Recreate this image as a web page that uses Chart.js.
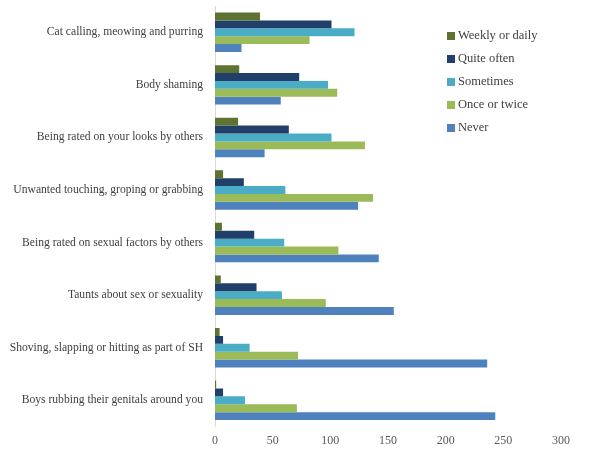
<!DOCTYPE html>
<html>
<head>
<meta charset="utf-8">
<script src="https://cdn.jsdelivr.net/npm/chart.js@4/dist/chart.umd.min.js"></script>
<style>
    body { margin: 0; background: #fff; }
    .wrap { position: relative; width: 603px; height: 460px; }
    #legend { position: absolute; left: 447px; top: 24px; font-family: "Liberation Serif", serif; font-size: 12.5px; color: #404040; }
    #legend div { height: 23.1px; display: flex; align-items: center; }
    #legend span { display: inline-block; width: 8px; height: 8px; margin-right: 3px; }
</style>
</head>
<body>
<div class="wrap">
    <canvas id="myChart" width="603" height="460"></canvas>
    <div id="legend"></div>
</div>
<script>
let categories = ['Cat calling, meowing and purring', 'Body shaming', 'Being rated on your looks by others',
    'Unwanted touching, groping or grabbing', 'Being rated on sexual factors by others',
    'Taunts about sex or sexuality', 'Shoving, slapping or hitting as part of SH', 'Boys rubbing their genitals around you'];
let seriesNames = ['Weekly or daily', 'Quite often', 'Sometimes', 'Once or twice', 'Never'];
let weeklyOrDaily = [39, 21, 20, 7, 6, 5, 4, 1];
let quiteOften = [101, 73, 64, 25, 34, 36, 7, 7];
let sometimes = [121, 98, 101, 61, 60, 58, 30, 26];
let onceOrTwice = [82, 106, 130, 137, 107, 96, 72, 71];
let never = [23, 57, 43, 124, 142, 155, 236, 243];
let xTicks = [0, 50, 100, 150, 200, 250, 300];

let colors = ['#5c7331', '#203f69', '#4bacc6', '#9bbb59', '#4f81bd'];
let values = [weeklyOrDaily, quiteOften, sometimes, onceOrTwice, never];

let diagramma = document.getElementById('myChart').getContext('2d');
let myChart = new Chart(diagramma, {
    type: 'bar',
    data: {
        labels: categories,
        datasets: seriesNames.map((name, i) => ({
            label: name,
            data: values[i],
            backgroundColor: colors[i],
            borderWidth: 0,
            categoryPercentage: 0.75,
            barPercentage: 1.0
        }))
    },
    options: {
        indexAxis: 'y',
        responsive: false,
        animation: false,
        layout: {
            padding: { left: 0, right: 42, top: 6, bottom: 5 }
        },
        plugins: {
            legend: false,
            tooltip: { enabled: false }
        },
        scales: {
            x: {
                min: xTicks[0],
                max: xTicks[xTicks.length - 1],
                grid: { display: false, drawTicks: false },
                border: { display: false },
                ticks: {
                    stepSize: 50,
                    color: '#595959',
                    padding: 7,
                    font: { family: 'Liberation Serif', size: 12 }
                }
            },
            y: {
                grid: { display: false },
                border: { display: true, color: '#d9d9d9' },
                afterFit: (axis) => {
                    axis.width = 215;
                    axis.paddingTop = 0;
                    axis.paddingBottom = 0;
                },
                ticks: {
                    color: '#404040',
                    padding: 4,
                    font: { family: 'Liberation Serif', size: 11.6 }
                }
            }
        }
    }
});

let legendBox = document.getElementById('legend');
seriesNames.forEach((name, i) => {
    let row = document.createElement('div');
    row.innerHTML = '<span style="background:' + colors[i] + '"></span>' + name;
    legendBox.appendChild(row);
});
</script>
</body>
</html>
